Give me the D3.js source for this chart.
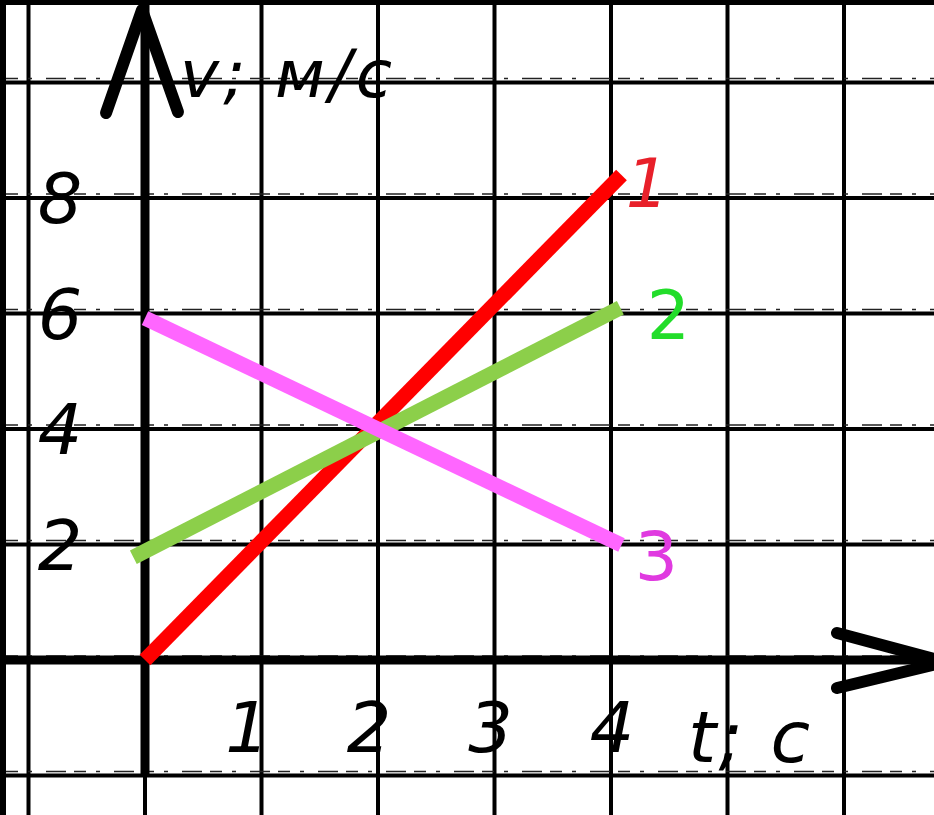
<!DOCTYPE html>
<html>
<head>
<meta charset="utf-8">
<script src="https://cdn.jsdelivr.net/npm/d3@7"></script>
<style>
  html, body { margin: 0; padding: 0; background: #000; }
  svg { display: block; }
</style>
</head>
<body>
<div id="chart"></div>
<script>
// Data
var tGrid = [-1, 0, 1, 2, 3, 4, 5, 6];
var vGrid = [-2, 0, 2, 4, 6, 8, 10];
var tTicks = ["1", "2", "3", "4"];
var vTicks = ["2", "4", "6", "8"];
var seriesNames = ["1", "2", "3"];
var seriesColors = ["#ff0000", "#8ccf4a", "#ff66ff"];
var labelColors = ["#e8202a", "#22dd2a", "#e03ae0"];
var line1 = [{t: 0, v: 0}, {t: 4.09, v: 8.4}];
var line2 = [{t: -0.1, v: 1.78}, {t: 4.08, v: 6.1}];
var line3 = [{t: 0, v: 5.92}, {t: 4.09, v: 1.99}];

var width = 934;
var height = 815;
var fontFamily = "'DejaVu Sans', sans-serif";

// scales: one cell = 1 s across, 2 m/s up
var x = d3.scaleLinear().domain([0, 1]).range([145, 261.5]);
var y = d3.scaleLinear().domain([0, 2]).range([660, 544.5]);

var svg = d3.select("#chart")
    .append("svg")
    .attr("width", width)
    .attr("height", height);

// paper
svg.append("rect")
    .attr("x", 6)
    .attr("y", 5)
    .attr("width", width - 6)
    .attr("height", height - 5)
    .attr("fill", "#fff");

var paper = svg.append("g");

// grid
paper.selectAll(".vgrid")
    .data(tGrid)
    .enter().append("line")
    .attr("class", "vgrid")
    .attr("x1", d => x(d)).attr("x2", d => x(d))
    .attr("y1", 5).attr("y2", height)
    .attr("stroke", "#000")
    .attr("stroke-width", 4);

paper.selectAll(".hgrid")
    .data(vGrid)
    .enter().append("line")
    .attr("class", "hgrid")
    .attr("x1", 6).attr("x2", width)
    .attr("y1", d => y(d)).attr("y2", d => y(d))
    .attr("stroke", "#000")
    .attr("stroke-width", 4);

// broken doubled print line just above each horizontal
paper.selectAll(".hghost")
    .data(vGrid)
    .enter().append("line")
    .attr("class", "hghost")
    .attr("x1", 6).attr("x2", width)
    .attr("y1", d => y(d) - 4).attr("y2", d => y(d) - 4)
    .attr("stroke", "#222")
    .attr("stroke-width", 1.5)
    .attr("stroke-dasharray", "12 10 4 14 20 8");

// axes
paper.append("line")
    .attr("x1", x(0)).attr("x2", x(0))
    .attr("y1", 0).attr("y2", y(-2))
    .attr("stroke", "#000")
    .attr("stroke-width", 9);

paper.append("line")
    .attr("x1", 6).attr("x2", width)
    .attr("y1", y(0)).attr("y2", y(0))
    .attr("stroke", "#000")
    .attr("stroke-width", 9);

// arrow heads
paper.append("polyline")
    .attr("points", [[x(0) - 39, 113], [x(0) - 3, 10], [x(0) + 33, 112]])
    .attr("fill", "none")
    .attr("stroke", "#000")
    .attr("stroke-width", 12)
    .attr("stroke-linecap", "round")
    .attr("stroke-linejoin", "round");

paper.append("polyline")
    .attr("points", [[837, y(0) - 27], [945, y(0) + 2], [837, y(0) + 28]])
    .attr("fill", "none")
    .attr("stroke", "#000")
    .attr("stroke-width", 12)
    .attr("stroke-linecap", "round")
    .attr("stroke-linejoin", "round");

// tick labels
paper.selectAll(".vtick")
    .data(vTicks)
    .enter().append("text")
    .attr("class", "vtick")
    .attr("x", 60)
    .attr("y", d => y(+d))
    .attr("dy", "0.36em")
    .attr("text-anchor", "middle")
    .attr("font-family", fontFamily)
    .attr("font-style", "italic")
    .attr("font-size", 70)
    .attr("fill", "#000")
    .text(d => d);

paper.selectAll(".ttick")
    .data(tTicks)
    .enter().append("text")
    .attr("class", "ttick")
    .attr("x", (d, i) => x(+d) - 14 + i * 5)
    .attr("y", 752)
    .attr("text-anchor", "middle")
    .attr("font-family", fontFamily)
    .attr("font-style", "italic")
    .attr("font-size", 70)
    .attr("fill", "#000")
    .text(d => d);

// axis names
paper.append("text")
    .attr("x", 180)
    .attr("y", 97)
    .attr("font-family", fontFamily)
    .attr("font-style", "italic")
    .attr("font-size", 66)
    .attr("textLength", 212)
    .attr("lengthAdjust", "spacing")
    .attr("fill", "#000")
    .text("v; м/с");

paper.append("text")
    .attr("x", 688)
    .attr("y", 762)
    .attr("font-family", fontFamily)
    .attr("font-style", "italic")
    .attr("font-size", 72)
    .attr("textLength", 122)
    .attr("lengthAdjust", "spacing")
    .attr("fill", "#000")
    .text("t; c");

// graphs
var series = [line1, line2, line3];
var lineGen = d3.line().x(d => x(d.t)).y(d => y(d.v));

paper.selectAll(".graph")
    .data(series)
    .enter().append("path")
    .attr("class", "graph")
    .attr("d", lineGen)
    .attr("fill", "none")
    .attr("stroke", (d, i) => seriesColors[i])
    .attr("stroke-width", 15)
    .attr("stroke-linecap", "butt");

var labelDx = [26, 48, 35];
var labelDy = [8, 7, 10];

paper.selectAll(".graph-label")
    .data(series)
    .enter().append("text")
    .attr("class", "graph-label")
    .attr("x", (d, i) => x(d[d.length - 1].t) + labelDx[i])
    .attr("y", (d, i) => y(d[d.length - 1].v) + labelDy[i])
    .attr("dy", "0.36em")
    .attr("text-anchor", "middle")
    .attr("font-family", fontFamily)
    .attr("font-style", (d, i) => i == 0 ? "italic" : "normal")
    .attr("font-size", 68)
    .attr("fill", (d, i) => labelColors[i])
    .text((d, i) => seriesNames[i]);
</script>
</body>
</html>
